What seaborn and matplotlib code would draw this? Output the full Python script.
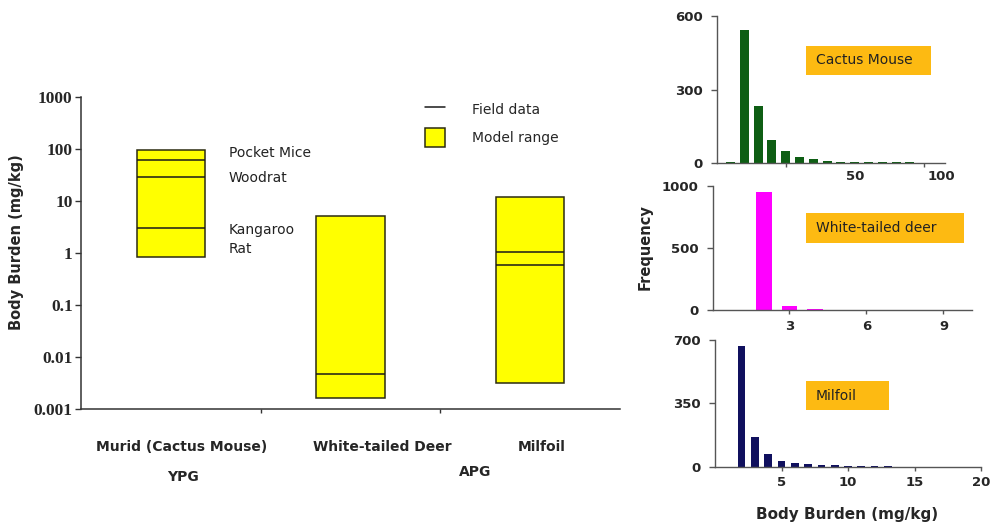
import numpy as np
import pandas as pd
import seaborn as sns
import matplotlib.pyplot as plt
from matplotlib.patches import Rectangle, Patch
from matplotlib.lines import Line2D

# ---- data ----
categories = ["Murid (Cactus Mouse)", "White-tailed Deer", "Milfoil"]
model_low = [0.85, 0.0016, 0.0031]
model_high = [95, 5.0, 12]

field_category = ["Murid (Cactus Mouse)", "Murid (Cactus Mouse)", "Murid (Cactus Mouse)",
                  "White-tailed Deer", "Milfoil", "Milfoil"]
field_value = [62, 29, 3.0, 0.0047, 1.03, 0.58]

mouse_bins = [5, 10, 15, 20, 25, 30, 35, 40, 45, 50, 55, 60, 65, 70]
mouse_freq = [4, 543, 235, 93, 50, 26, 19, 9, 5, 7, 5, 5, 4, 4]

deer_bins = [2, 3, 4]
deer_freq = [954, 30, 7]

milfoil_bins = [2, 3, 4, 5, 6, 7, 8, 9, 10, 11, 12, 13]
milfoil_freq = [668, 163, 67, 33, 22, 13, 9, 7, 5, 4, 3, 2]

W, H = 994, 526


def fx(px):
    return px / W


def fy(py):
    return 1 - py / H


sns.set_style("ticks")
plt.rcParams['font.family'] = ['DejaVu Sans']

fig = plt.figure(figsize=(W / 100, H / 100), dpi=100)

# ---------------- left chart ----------------
ax = fig.add_axes([fx(81), fy(409), fx(620) - fx(81), fy(96.7) - fy(409)])
ax.set_yscale('log')
pos = {c: i for i, c in enumerate(categories)}
xs = np.arange(len(categories))
ax.bar(xs, np.array(model_high) - np.array(model_low), bottom=model_low,
       width=0.38, color='#FFFF00', edgecolor='#2b2b10', linewidth=1.1)
fxs = np.array([pos[c] for c in field_category])
ax.hlines(field_value, fxs - 0.19, fxs + 0.19, color='#1a1a1a', linewidth=1.1)
ax.set_xlim(-0.5, 2.5)
ax.set_ylim(0.001, 1000)
ax.set_yticks([0.001, 0.01, 0.1, 1, 10, 100, 1000])
ax.set_yticklabels(['0.001', '0.01', '0.1', '1', '10', '100', '1000'],
                   family='Liberation Serif', fontweight='bold', fontsize=12.5)
ax.yaxis.set_minor_locator(plt.NullLocator())
ax.set_xticks([0.5, 1.5])
ax.set_xticklabels([])
ax.tick_params(axis='y', length=4, width=1, color='#333333', pad=2)
ax.tick_params(axis='x', length=3, width=1, color='#333333')
sns.despine(ax=ax)
for s in ['left', 'bottom']:
    ax.spines[s].set_color('#333333')
    ax.spines[s].set_linewidth(1.1)

fig.text(fx(17), fy(242), 'Body Burden (mg/kg)', rotation=90, ha='center', va='center',
         fontsize=10.5, fontweight='bold')
for lab, px in zip(categories, [181.7, 382.6, 541.7]):
    fig.text(fx(px), fy(447), lab, ha='center', va='center', fontsize=10, fontweight='bold')
fig.text(fx(183), fy(477), 'YPG', ha='center', va='center', fontsize=10, fontweight='bold')
fig.text(fx(475), fy(472), 'APG', ha='center', va='center', fontsize=10, fontweight='bold')

for lab, py in [('Pocket Mice', 153), ('Woodrat', 178), ('Kangaroo', 230), ('Rat', 249)]:
    fig.text(fx(229), fy(py), lab, ha='left', va='center', fontsize=10, color='#222222')

handles = [Line2D([], [], color='#1a1a1a', linewidth=1.1),
           Patch(facecolor='#FFFF00', edgecolor='#2b2b10', linewidth=1.1)]
ax.legend(handles, ['Field data', 'Model range'], loc='upper left',
          bbox_to_anchor=(fx(425), fy(100)), bbox_transform=fig.transFigure,
          frameon=False, borderpad=0, borderaxespad=0, fontsize=10,
          handlelength=1.44, handleheight=1.73, handletextpad=1.94, labelspacing=0.65)

# ---------------- right histograms ----------------
tick_font = dict(fontsize=9.5, fontweight='bold')


def hist_panel(rect, bins, freq, color, width, xlim, ylim, yticks):
    a = fig.add_axes(rect)
    df = pd.DataFrame({'bin': bins, 'freq': freq})
    sns.barplot(data=df, x='bin', y='freq', native_scale=True, width=width,
                color=color, saturation=1, errorbar=None, linewidth=0, ax=a)
    a.set_xlim(*xlim)
    a.set_ylim(*ylim)
    a.set_yticks(yticks)
    a.set_yticklabels([str(t) for t in yticks], **tick_font)
    a.set_xlabel('')
    a.set_ylabel('')
    a.tick_params(axis='y', length=4, width=1, color='#555555', pad=6)
    a.tick_params(axis='x', length=3, width=1, color='#555555', pad=4)
    sns.despine(ax=a)
    for s in ['left', 'bottom']:
        a.spines[s].set_color('#555555')
        a.spines[s].set_linewidth(1)
    return a


a1 = hist_panel([fx(716.7), fy(163.3), fx(945) - fx(716.7), fy(16) - fy(163.3)],
                mouse_bins, mouse_freq, '#0e5e14', 0.65, (0, 82.7), (0, 600), [0, 300, 600])
a1.set_xticks([50, 81.5])
a1.set_xticklabels(['50', '100'], **tick_font)
a1.set_xticks([25, 50, 75], minor=True)
a1.tick_params(axis='x', which='major', length=0, pad=5)
a1.tick_params(axis='x', which='minor', length=3, width=1, color='#555555')

a2 = hist_panel([fx(712.5), fy(310), fx(971.7) - fx(712.5), fy(186) - fy(310)],
                deer_bins, deer_freq, '#FF00FF', 0.62, (0, 10.1), (0, 1000), [0, 500, 1000])
a2.set_xticks([3, 6, 9])
a2.set_xticklabels(['3', '6', '9'], **tick_font)

a3 = hist_panel([fx(715), fy(466.5), fx(981) - fx(715), fy(340) - fy(466.5)],
                milfoil_bins, milfoil_freq, '#10105e', 0.58, (0, 20), (0, 700), [0, 350, 700])
a3.set_xticks([5, 10, 15, 20])
a3.set_xticklabels(['5', '10', '15', '20'], **tick_font)

fig.text(fx(645), fy(247), 'Frequency', rotation=90, ha='center', va='center',
         fontsize=10.5, fontweight='bold')
fig.text(fx(847.5), fy(514), 'Body Burden (mg/kg)', ha='center', va='center',
         fontsize=11, fontweight='bold')

for lab, (x0, y0, x1, y1) in [('Cactus Mouse', (805.7, 45.7, 931, 75)),
                              ('White-tailed deer', (805.7, 212.7, 964, 242.7)),
                              ('Milfoil', (805.7, 381, 889, 410))]:
    fig.add_artist(Rectangle((fx(x0), fy(y1)), fx(x1) - fx(x0), fy(y0) - fy(y1),
                             transform=fig.transFigure, facecolor='#FDBA12', edgecolor='none'))
    fig.text(fx(816), fy((y0 + y1) / 2), lab, ha='left', va='center', fontsize=10,
             color='#222222')

fig.savefig('out.png', dpi=100)
